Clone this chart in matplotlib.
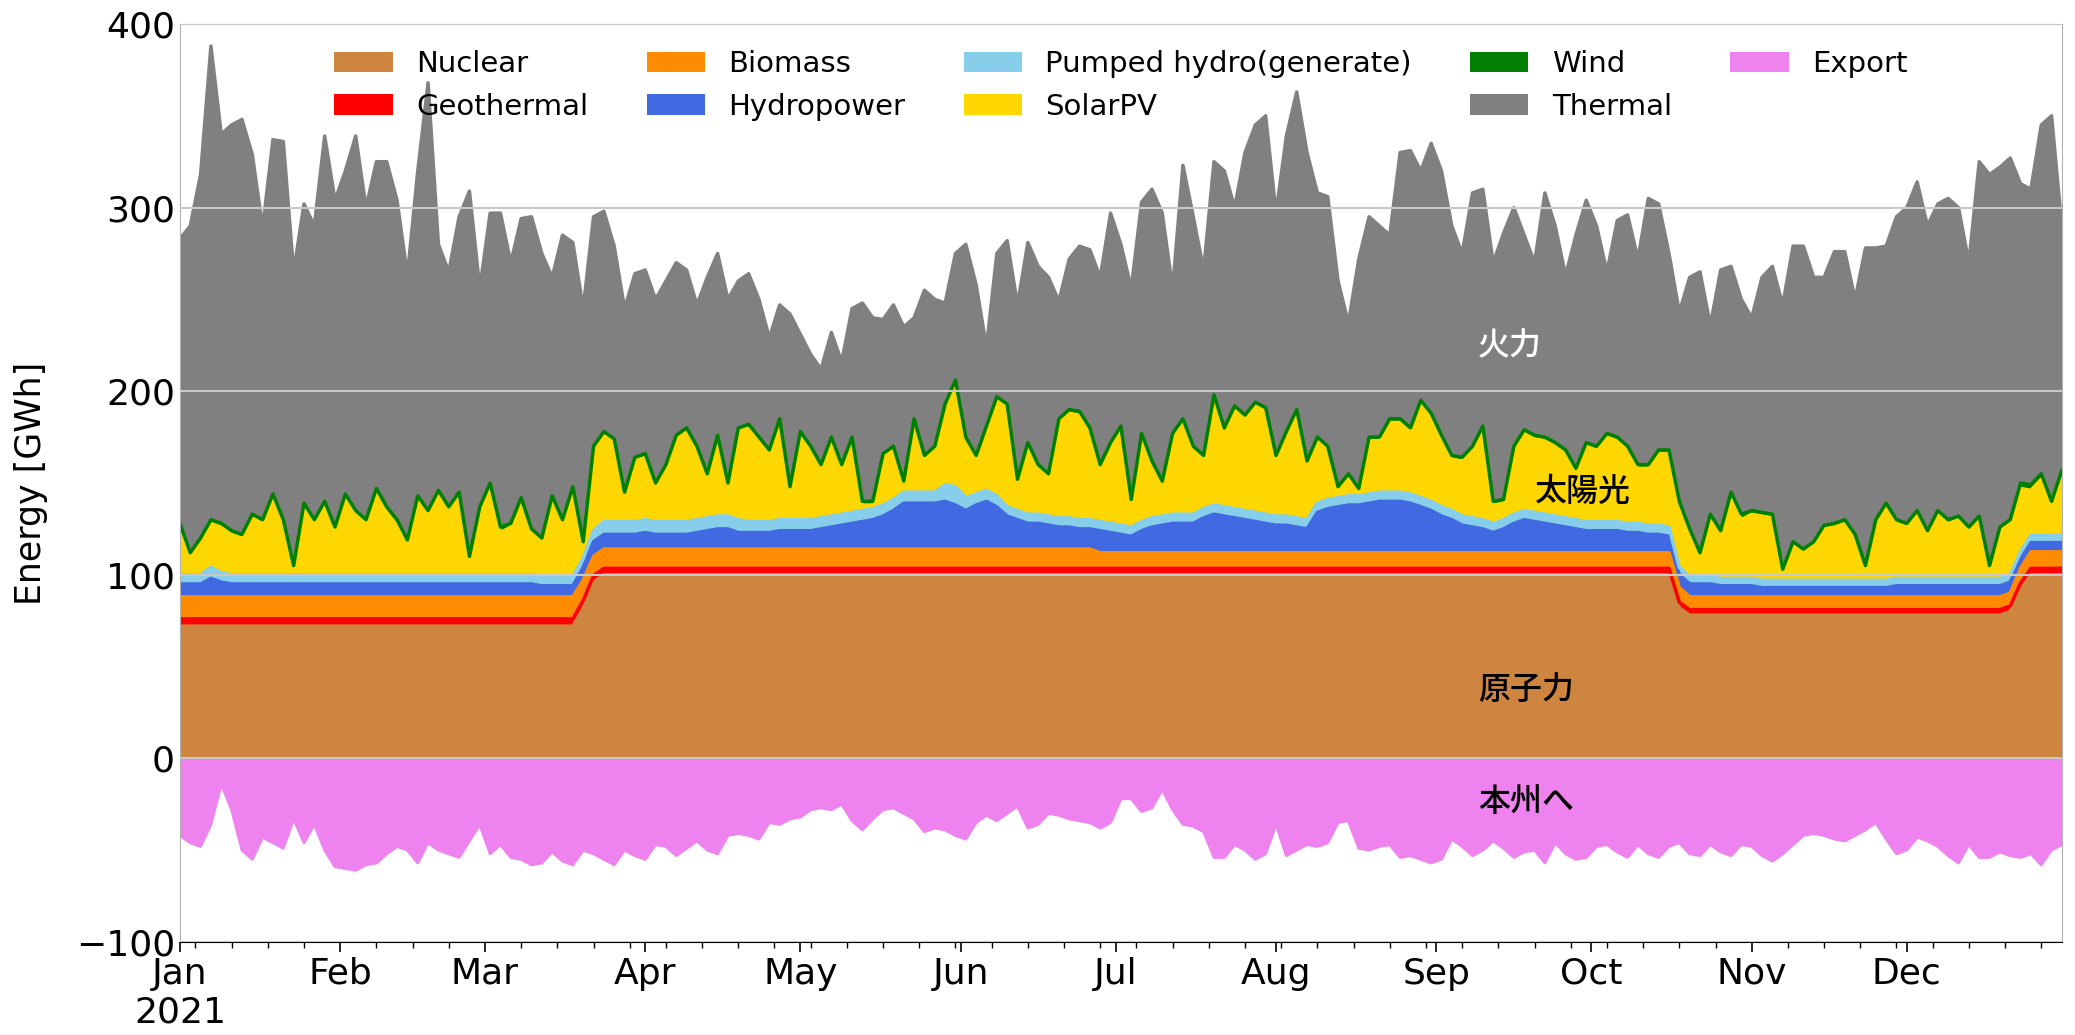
import numpy as np
import pandas as pd
import matplotlib
matplotlib.use("Agg")
import matplotlib.pyplot as plt
import matplotlib.dates as mdates

plt.rcParams['font.family'] = ['DejaVu Sans', 'Noto Sans CJK JP']

# daily energy (GWh), sampled every 2 days, Jan 1 - Dec 31 2021
dates = pd.date_range("2021-01-01", "2021-12-31", freq="2D")

nuclear = [72, 72, 72, 72, 72, 72, 72, 72, 72, 72,
           72, 72, 72, 72, 72, 72, 72, 72, 72, 72,
           72, 72, 72, 72, 72, 72, 72, 72, 72, 72,
           72, 72, 72, 72, 72, 72, 72, 72, 72, 82,
           96, 100, 100, 100, 100, 100, 100, 100, 100, 100,
           100, 100, 100, 100, 100, 100, 100, 100, 100, 100,
           100, 100, 100, 100, 100, 100, 100, 100, 100, 100,
           100, 100, 100, 100, 100, 100, 100, 100, 100, 100,
           100, 100, 100, 100, 100, 100, 100, 100, 100, 100,
           100, 100, 100, 100, 100, 100, 100, 100, 100, 100,
           100, 100, 100, 100, 100, 100, 100, 100, 100, 100,
           100, 100, 100, 100, 100, 100, 100, 100, 100, 100,
           100, 100, 100, 100, 100, 100, 100, 100, 100, 100,
           100, 100, 100, 100, 100, 100, 100, 100, 100, 100,
           100, 100, 100, 100, 100, 82, 78, 78, 78, 78,
           78, 78, 78, 78, 78, 78, 78, 78, 78, 78,
           78, 78, 78, 78, 78, 78, 78, 78, 78, 78,
           78, 78, 78, 78, 78, 78, 78, 80, 92, 100,
           100, 100, 100]

geothermal = [4, 4, 4, 4, 4, 4, 4, 4, 4, 4,
              4, 4, 4, 4, 4, 4, 4, 4, 4, 4,
              4, 4, 4, 4, 4, 4, 4, 4, 4, 4,
              4, 4, 4, 4, 4, 4, 4, 4, 4, 4,
              3.5, 3.5, 3.5, 3.5, 3.5, 3.5, 3.5, 3.5, 3.5, 3.5,
              3.5, 3.5, 3.5, 3.5, 3.5, 3.5, 3.5, 3.5, 3.5, 3.5,
              3.5, 3.5, 3.5, 3.5, 3.5, 3.5, 3.5, 3.5, 3.5, 3.5,
              3.5, 3.5, 3.5, 3.5, 3.5, 3.5, 3.5, 3.5, 3.5, 3.5,
              3.5, 3.5, 3.5, 3.5, 3.5, 3.5, 3.5, 3.5, 3.5, 3.5,
              3.5, 3.5, 3.5, 3.5, 3.5, 3.5, 3.5, 3.5, 3.5, 3.5,
              3.5, 3.5, 3.5, 3.5, 3.5, 3.5, 3.5, 3.5, 3.5, 3.5,
              3.5, 3.5, 3.5, 3.5, 3.5, 3.5, 3.5, 3.5, 3.5, 3.5,
              3.5, 3.5, 3.5, 3.5, 3.5, 3.5, 3.5, 3.5, 3.5, 3.5,
              3.5, 3.5, 3.5, 3.5, 3.5, 3.5, 3.5, 3.5, 3.5, 3.5,
              3.5, 3.5, 3.5, 3.5, 3.5, 3, 3, 3, 3, 3,
              3, 3, 3, 3, 3, 3, 3, 3, 3, 3,
              3, 3, 3, 3, 3, 3, 3, 3, 3, 3,
              3, 3, 3, 3, 3, 3, 3, 3, 3.5, 3.5,
              3.5, 3.5, 3.5]

biomass = [12, 12, 12, 12, 12, 12, 12, 12, 12, 12,
           12, 12, 12, 12, 12, 12, 12, 12, 12, 12,
           12, 12, 12, 12, 12, 12, 12, 12, 12, 12,
           12, 12, 12, 12, 12, 12, 12, 12, 12, 11,
           10.5, 10.5, 10.5, 10.5, 10.5, 10.5, 10.5, 10.5, 10.5, 10.5,
           10.5, 10.5, 10.5, 10.5, 10.5, 10.5, 10.5, 10.5, 10.5, 10.5,
           10.5, 10.5, 10.5, 10.5, 10.5, 10.5, 10.5, 10.5, 10.5, 10.5,
           10.5, 10.5, 10.5, 10.5, 10.5, 10.5, 10.5, 10.5, 10.5, 10.5,
           10.5, 10.5, 10.5, 10.5, 10.5, 10.5, 10.5, 10.5, 10.5, 8.5,
           8.5, 8.5, 8.5, 8.5, 8.5, 8.5, 8.5, 8.5, 8.5, 8.5,
           8.5, 8.5, 8.5, 8.5, 8.5, 8.5, 8.5, 8.5, 8.5, 8.5,
           8.5, 8.5, 8.5, 8.5, 8.5, 8.5, 8.5, 8.5, 8.5, 8.5,
           8.5, 8.5, 8.5, 8.5, 8.5, 8.5, 8.5, 8.5, 8.5, 8.5,
           8.5, 8.5, 8.5, 8.5, 8.5, 8.5, 8.5, 8.5, 8.5, 8.5,
           8.5, 8.5, 8.5, 8.5, 8.5, 8, 7, 7, 7, 7,
           7, 7, 7, 7, 7, 7, 7, 7, 7, 7,
           7, 7, 7, 7, 7, 7, 7, 7, 7, 7,
           7, 7, 7, 7, 7, 7, 7, 7, 8, 9,
           9, 9, 9]

hydro = [7, 7, 7, 10, 8, 7, 7, 7, 7, 7,
         7, 7, 7, 7, 7, 7, 7, 7, 7, 7,
         7, 7, 7, 7, 7, 7, 7, 7, 7, 7,
         7, 7, 7, 7, 7, 6, 6, 6, 6, 7,
         8, 8, 8, 8, 8, 9, 8, 8, 8, 8,
         9, 10, 11, 11, 9, 9, 9, 9, 10, 10,
         10, 10, 11, 12, 13, 14, 15, 16, 18, 21,
         25, 25, 25, 25, 26, 24, 21, 24, 26, 23,
         18, 16, 14, 14, 13, 12, 12, 11, 11, 12,
         11, 10, 9, 12, 14, 15, 16, 16, 16, 19,
         21, 20, 19, 18, 17, 16, 15, 15, 14, 13,
         22, 24, 25, 26, 26, 27, 28, 28, 28, 27,
         25, 23, 20, 18, 15, 14, 13, 11, 13, 16,
         18, 17, 16, 15, 14, 13, 12, 12, 12, 12,
         11, 11, 10, 10, 9, 7, 7, 7, 7, 6,
         6, 6, 6, 5, 5, 5, 5, 5, 5, 5,
         5, 5, 5, 5, 5, 5, 6, 6, 6, 6,
         6, 6, 6, 6, 6, 6, 6, 6, 5, 5,
         5, 5, 5]

pumped = [5, 5, 5, 6, 5, 5, 5, 5, 5, 5,
          5, 5, 5, 5, 5, 5, 5, 5, 5, 5,
          5, 5, 5, 5, 5, 5, 5, 5, 5, 5,
          5, 5, 5, 5, 5, 5, 5, 5, 5, 5,
          6, 7, 7, 7, 7, 7, 7, 7, 7, 7,
          7, 7, 7, 7, 7, 6, 6, 6, 6, 6,
          6, 6, 6, 6, 6, 6, 6, 6, 6, 6,
          6, 6, 6, 6, 9, 10, 7, 6, 6, 6,
          5, 5, 5, 5, 5, 5, 5, 5, 5, 5,
          5, 5, 5, 5, 5, 5, 5, 5, 5, 5,
          5, 5, 5, 5, 5, 5, 5, 5, 5, 5,
          5, 5, 5, 5, 5, 5, 5, 5, 5, 5,
          5, 5, 5, 5, 5, 5, 5, 5, 5, 5,
          5, 5, 5, 5, 5, 5, 5, 5, 5, 5,
          5, 5, 5, 5, 5, 4, 4, 4, 4, 4,
          4, 4, 4, 4, 4, 4, 4, 4, 4, 4,
          4, 4, 4, 4, 4, 4, 4, 4, 4, 4,
          4, 4, 4, 4, 4, 4, 4, 4, 4, 4,
          4, 4, 4]

wind = [2, 2, 2, 2, 2, 2, 2, 2, 2, 2,
        2, 2, 2, 2, 2, 2, 2, 2, 2, 2,
        3, 3, 3, 3, 2, 2, 2, 2, 2, 2,
        2, 3, 2, 2, 2, 2, 2, 2, 2, 2,
        2, 2, 2, 2, 2, 2, 2, 2, 2, 2,
        2, 2, 2, 2, 2, 2, 2, 2, 2, 2,
        2, 2, 2, 2, 2, 2, 2, 2, 2, 2,
        2, 2, 2, 2, 2, 2, 2, 2, 2, 2,
        2, 2, 2, 2, 2, 2, 2, 2, 2, 2,
        2, 2, 2, 2, 2, 2, 2, 2, 2, 2,
        2, 2, 2, 2, 2, 2, 2, 2, 2, 2,
        2, 2, 2, 2, 2, 2, 2, 2, 2, 2,
        2, 2, 2, 2, 2, 2, 2, 2, 2, 2,
        2, 2, 2, 2, 2, 2, 2, 2, 2, 2,
        2, 2, 2, 2, 2, 2, 2, 2, 2, 2,
        2, 3, 2, 2, 2, 2, 2, 2, 2, 2,
        2, 2, 2, 2, 2, 2, 2, 2, 2, 2,
        2, 2, 2, 2, 2, 2, 2, 2, 3, 3,
        3, 2, 3]

# top of the wind layer (green line)
supply_top = [128, 112, 120, 130, 128, 124, 122, 133, 130, 144,
              130, 105, 139, 130, 140, 126, 144, 135, 130, 147,
              137, 130, 119, 143, 135, 146, 137, 145, 110, 137,
              150, 126, 128, 142, 125, 120, 143, 130, 148, 118,
              170, 178, 174, 145, 164, 166, 150, 160, 176, 180,
              170, 155, 176, 150, 180, 182, 175, 168, 185, 148,
              178, 170, 160, 175, 160, 175, 140, 140, 166, 170,
              151, 185, 165, 170, 193, 206, 175, 165, 181, 197,
              193, 152, 172, 160, 155, 185, 190, 189, 180, 160,
              172, 181, 141, 177, 162, 151, 177, 185, 170, 165,
              198, 180, 192, 187, 194, 191, 165, 178, 190, 162,
              175, 170, 148, 155, 147, 175, 175, 185, 185, 180,
              195, 188, 176, 165, 164, 170, 181, 140, 141, 170,
              179, 176, 175, 172, 168, 158, 172, 170, 177, 175,
              170, 160, 160, 168, 168, 140, 125, 112, 133, 124,
              145, 133, 135, 134, 133, 103, 118, 114, 118, 127,
              128, 130, 122, 105, 130, 139, 130, 128, 135, 124,
              135, 130, 132, 126, 132, 105, 126, 130, 150, 149,
              155, 140, 157]

# top of the thermal layer (total supply)
total = [283, 290, 318, 388, 340, 345, 348, 329, 289, 337,
         336, 265, 302, 290, 339, 304, 320, 339, 300, 325,
         325, 304, 263, 320, 368, 280, 265, 295, 309, 256,
         297, 297, 270, 294, 295, 275, 262, 285, 281, 245,
         295, 298, 279, 245, 264, 266, 250, 260, 270, 266,
         247, 262, 275, 250, 260, 264, 250, 229, 247, 242,
         231, 220, 212, 232, 216, 245, 248, 240, 239, 247,
         235, 240, 255, 250, 248, 275, 280, 258, 224, 275,
         282, 247, 281, 268, 262, 249, 272, 279, 277, 262,
         297, 280, 256, 303, 310, 297, 256, 323, 295, 266,
         325, 320, 300, 330, 345, 350, 297, 339, 363, 330,
         308, 306, 260, 237, 272, 295, 290, 285, 330, 331,
         320, 335, 320, 290, 275, 308, 310, 270, 286, 300,
         285, 270, 308, 290, 263, 285, 304, 290, 265, 293,
         296, 272, 305, 302, 275, 243, 262, 265, 236, 266,
         268, 250, 240, 262, 268, 247, 279, 279, 262, 262,
         276, 276, 250, 278, 278, 279, 295, 300, 314, 290,
         302, 305, 300, 270, 325, 318, 322, 327, 313, 310,
         345, 350, 289]

export = [-42, -46, -48, -36, -14, -28, -50, -55, -43, -46,
          -49, -33, -46, -36, -50, -59, -60, -61, -58, -57,
          -52, -48, -50, -57, -46, -50, -52, -54, -45, -36,
          -52, -47, -54, -55, -58, -57, -51, -56, -58, -50,
          -52, -55, -58, -50, -53, -55, -47, -48, -53, -49,
          -45, -50, -52, -42, -41, -42, -44, -35, -36, -33,
          -32, -28, -27, -28, -25, -34, -39, -33, -28, -27,
          -30, -33, -40, -38, -39, -42, -44, -35, -31, -34,
          -30, -26, -38, -36, -30, -31, -33, -34, -35, -38,
          -35, -22, -22, -29, -27, -17, -28, -36, -37, -40,
          -54, -54, -47, -50, -55, -52, -36, -53, -50, -47,
          -48, -46, -35, -34, -49, -50, -48, -47, -54, -53,
          -55, -57, -55, -44, -48, -53, -50, -45, -49, -54,
          -51, -50, -57, -46, -52, -55, -54, -48, -47, -51,
          -54, -47, -52, -54, -48, -46, -52, -53, -47, -51,
          -53, -47, -48, -53, -56, -52, -47, -42, -41, -42,
          -44, -45, -42, -39, -35, -44, -52, -50, -43, -45,
          -48, -53, -57, -47, -54, -54, -51, -53, -54, -52,
          -58, -50, -47]

nuclear = np.array(nuclear, float)
geothermal = np.array(geothermal, float)
biomass = np.array(biomass, float)
hydro = np.array(hydro, float)
pumped = np.array(pumped, float)
wind = np.array(wind, float)
supply_top = np.array(supply_top, float)
total = np.array(total, float)
export = np.array(export, float)

lower = nuclear + geothermal + biomass + hydro + pumped
solar = np.maximum(supply_top - wind - lower, 0)
thermal = total - supply_top

layers = [("Nuclear", nuclear, "peru"),
          ("Geothermal", geothermal, "red"),
          ("Biomass", biomass, "darkorange"),
          ("Hydropower", hydro, "royalblue"),
          ("Pumped hydro(generate)", pumped, "skyblue"),
          ("SolarPV", solar, "gold"),
          ("Wind", wind, "green"),
          ("Thermal", thermal, "grey")]

fig = plt.figure(figsize=(20.75, 10.35), dpi=100)
ax = fig.add_axes([0.0867, 0.0899, 0.9070, 0.8869])

base = np.zeros(len(dates))
for name, vals, col in layers:
    top = base + vals
    ax.fill_between(dates, base, top, color=col, label=name, linewidth=0)
    ax.plot(dates, top, color=col, lw=2.5)
    base = top
ax.fill_between(dates, 0, export, color="violet", label="Export", linewidth=0)
ax.plot(dates, export, color="violet", lw=2)

ax.set_xlim(dates[0], dates[-1])
ax.set_ylim(-100, 400)
ax.set_yticks([-100, 0, 100, 200, 300, 400])
ax.set_ylabel("Energy [GWh]", fontsize=25, labelpad=20)

ax.xaxis.set_major_locator(mdates.MonthLocator())
ax.xaxis.set_minor_locator(mdates.WeekdayLocator(byweekday=mdates.MO))


def month_fmt(x, pos=None):
    d = mdates.num2date(x)
    if d.month == 1:
        return d.strftime("%b\n%Y")
    return d.strftime("%b")


ax.xaxis.set_major_formatter(plt.FuncFormatter(month_fmt))
ax.tick_params(axis="x", which="major", length=7, width=1.2, labelsize=26)
ax.tick_params(axis="x", which="minor", length=4, width=1)
ax.tick_params(axis="y", length=0, labelsize=26)

ax.set_axisbelow(False)
ax.yaxis.grid(True, color="#c8c8c8", lw=1.5)
for s in ["left", "top", "right"]:
    ax.spines[s].set_color("#b0b0b0")
ax.spines["bottom"].set_color("black")

# Japanese labels on the areas
t0 = dates[0]
jp = dict(fontsize=23, fontweight="medium", va="center")
ax.text(t0 + pd.Timedelta(days=251), 224, "火力", color="white", **jp)
ax.text(t0 + pd.Timedelta(days=262), 145, "太陽光", color="black", **jp)
ax.text(t0 + pd.Timedelta(days=251), 37, "原子力", color="black", **jp)
ax.text(t0 + pd.Timedelta(days=251), -24, "本州へ", color="black", **jp)

ax.legend(loc="upper center", ncol=5, frameon=False, fontsize=21)

fig.savefig("out.png", dpi=100)
